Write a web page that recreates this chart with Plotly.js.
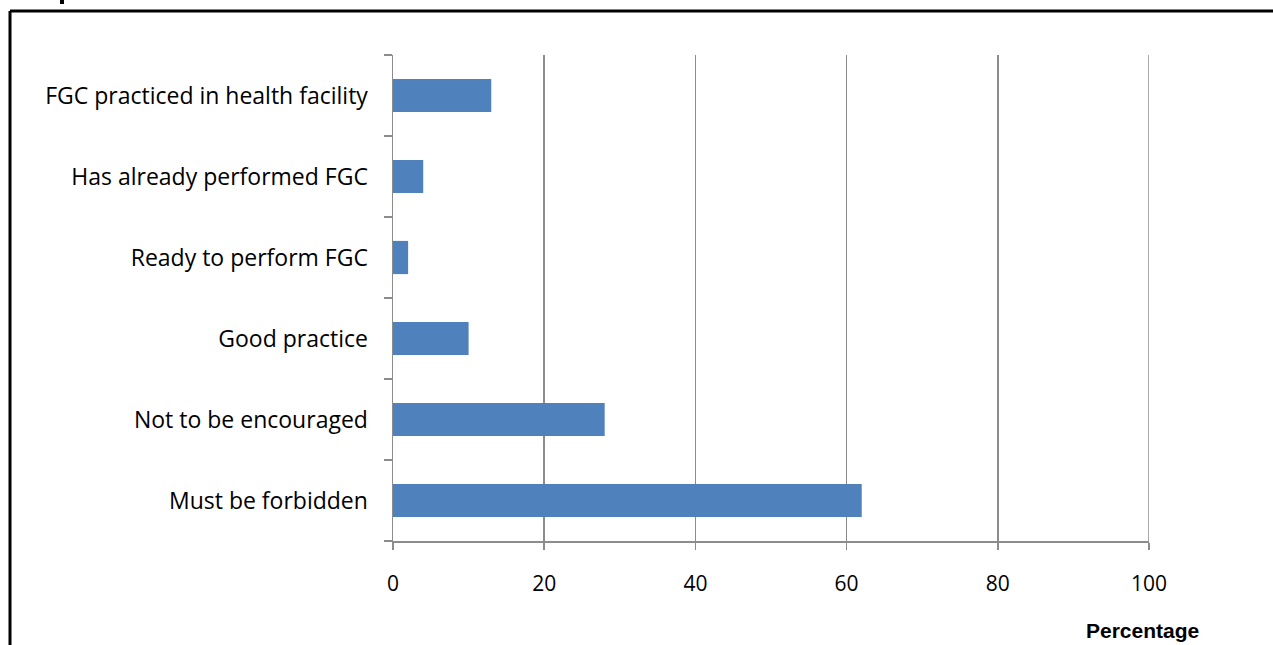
<!DOCTYPE html>
<html>
<head>
<meta charset="utf-8">
<script src="https://cdn.plot.ly/plotly-3.0.1.min.js"></script>
<style>html,body{margin:0;padding:0;background:#fff;}#chart{width:1273px;height:645px;}</style>
</head>
<body>
<div id="chart"></div>
<script>
const categories = ["Must be forbidden", "Not to be encouraged", "Good practice", "Ready to perform FGC", "Has already performed FGC", "FGC practiced in health facility"];
const percentages = [62, 28, 10, 2, 4, 13];
const xTickValues = [0, 20, 40, 60, 80, 100];
const xAxisTitle = "Percentage";

const W = 1273, H = 645;
const m = {l: 393, r: 124, t: 55, b: 104};
const pw = W - m.l - m.r, ph = H - m.t - m.b;
const px = v => (v - m.l) / pw;
const py = v => (H - m.b - v) / ph;
const FONT = '"Open Sans", Lato, sans-serif';

const trace = {
  type: 'bar',
  orientation: 'h',
  x: percentages,
  y: categories,
  marker: {color: '#4F81BD'},
  hoverinfo: 'x+y'
};

const layout = {
  width: W, height: H,
  margin: m,
  paper_bgcolor: '#fff', plot_bgcolor: '#fff',
  showlegend: false,
  bargap: 0.59,
  font: {family: FONT, size: 21, color: '#000'},
  xaxis: {
    range: [0, 100],
    tickvals: xTickValues,
    ticktext: xTickValues.map(String),
    showgrid: true, gridcolor: '#8c8c8c', gridwidth: 1.5,
    zeroline: false,
    showline: true, linecolor: '#8c8c8c', linewidth: 1.5,
    ticks: 'outside', ticklen: 7, tickcolor: '#8c8c8c', tickwidth: 1.5,
    tickfont: {size: 21, family: FONT, color: '#000'},
    ticklabelstandoff: 16,
    fixedrange: true
  },
  yaxis: {
    type: 'category',
    categoryorder: 'array', categoryarray: categories,
    showgrid: false, zeroline: false,
    showline: true, linecolor: '#8c8c8c', linewidth: 1.5,
    ticks: 'outside', tickson: 'boundaries', ticklen: 8, tickcolor: '#8c8c8c', tickwidth: 1.5,
    tickfont: {size: 23, family: FONT, color: '#000'},
    ticklabelstandoff: 19,
    fixedrange: true
  },
  annotations: [{
    text: '<b>' + xAxisTitle + '</b>',
    xref: 'paper', yref: 'paper',
    x: px(1142), y: py(630),
    xanchor: 'center', yanchor: 'middle',
    showarrow: false,
    font: {family: 'Liberation Sans, Arial, sans-serif', size: 21, color: '#000'}
  }],
  shapes: [
    {type: 'line', xref: 'x', yref: 'paper', x0: 100, x1: 100, y0: 0, y1: 1, line: {color: '#8c8c8c', width: 1.5}},
    {type: 'line', xref: 'paper', yref: 'paper', x0: px(10), x1: px(1290), y0: py(11), y1: py(11), line: {color: '#000', width: 3}},
    {type: 'line', xref: 'paper', yref: 'paper', x0: px(10), x1: px(10), y0: py(11), y1: py(660), line: {color: '#000', width: 3}},
    {type: 'line', xref: 'paper', yref: 'paper', x0: px(62), x1: px(62), y0: py(-2), y1: py(4), line: {color: '#000', width: 4}}
  ]
};

Plotly.newPlot('chart', [trace], layout, {displayModeBar: false, staticPlot: true});
</script>
</body>
</html>
